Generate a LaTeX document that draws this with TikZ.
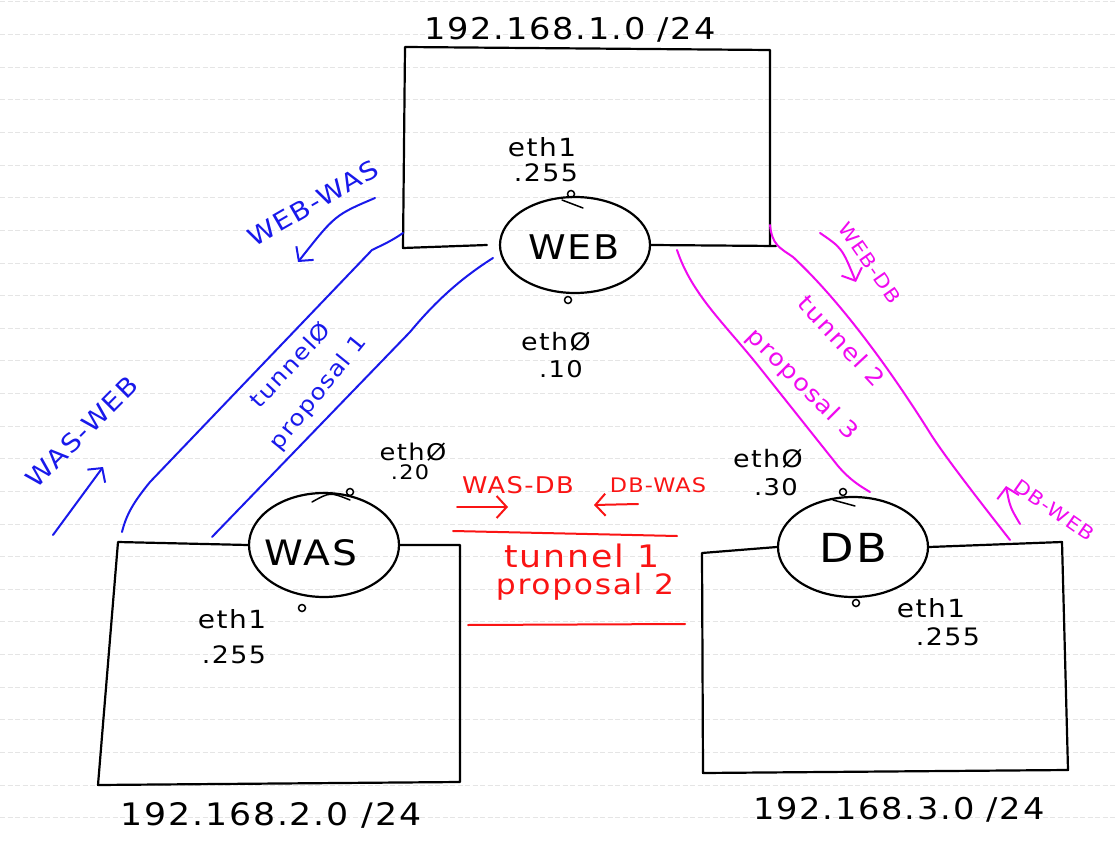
\documentclass[tikz,border=0pt]{standalone}
\usepackage{fontspec}
\setmainfont{DejaVu Sans}[FakeStretch=1.12,LetterSpace=6]
\usetikzlibrary{shapes.geometric,arrows.meta}
\definecolor{penblue}{RGB}{25,25,235}
\definecolor{penmag}{RGB}{240,10,240}
\definecolor{penred}{RGB}{250,20,20}
\newcommand\hfs[1]{\fontsize{#1}{#1}\selectfont}
\begin{document}
\begin{tikzpicture}[x=1pt,y=-1pt,
  ink/.style={line width=2.2pt,line cap=round,line join=round},
  bk/.style={ink,black},
  bl/.style={ink,penblue,line width=2pt},
  mg/.style={ink,penmag,line width=2pt},
  rd/.style={ink,penred,line width=2pt},
  host/.style={ellipse,draw,ink,inner sep=0pt},
  lbl/.style={inner sep=0pt,outer sep=0pt},
  barb/.style={-{Straight Barb[length=10pt,width=22pt,line width=2pt]}},
  port/.style={circle,draw,line width=1.5pt,inner sep=0pt,minimum size=7pt},
  noteline/.style={black!10,line width=1pt,dash pattern=on 5pt off 2.5pt}]
\fill[white] (0,0) rectangle (1116,842);
\path[use as bounding box] (0,0) rectangle (1116,842);
% notebook lines
\foreach \k in {0,...,25}{
  \draw[noteline] (0,{2+32.63*\k}) -- (1116,{2+32.63*\k});
}
% hosts
\node[host,minimum width=150pt,minimum height=96pt] (web) at (575,245) {};
\node[host,minimum width=150pt,minimum height=104pt] (was) at (324,545) {};
\node[host,minimum width=150pt,minimum height=100pt] (db) at (853,547) {};
\node[lbl,anchor=base,font=\hfs{34}] (webname) at (574,260) {WEB};
\node[lbl,anchor=base,font=\hfs{35}] (wasname) at (311,565) {WAS};
\node[lbl,anchor=base,font=\hfs{40}] (dbname) at (853,562) {DB};
% subnet boxes
\coordinate (aBL) at (403,248);
\coordinate (aTL) at (405,47);
\coordinate (aTR) at (770,50);
\coordinate (aBR) at (770,246);
\draw[bk] ([xshift=-12pt]web.west) -- (aBL) -- (aTL) -- (aTR) -- (aBR);
\draw[bk] (web.east) -- (776,246);
\coordinate (bTL) at (118,542);
\coordinate (bBL) at (98,785);
\coordinate (bBR) at (460,782);
\coordinate (bTR) at (460,545);
\draw[bk] (was.west) -- (bTL) -- (bBL) -- (bBR) -- (bTR) -- (was.east);
\coordinate (cTL) at (702,553);
\coordinate (cBL) at (703,773);
\coordinate (cBR) at (1068,770);
\coordinate (cTR) at (1062,542);
\draw[bk] (db.west) -- (cTL) -- (cBL) -- (cBR) -- (cTR) -- (db.east);
% subnet labels
\node[lbl,anchor=base,font=\hfs{30}] (net1) at (570,40) {192.168.1.0 /24};
\node[lbl,anchor=base,font=\hfs{31}] (net2) at (271,825) {192.168.2.0 /24};
\node[lbl,anchor=base,font=\hfs{30}] (net3) at (899,819) {192.168.3.0 /24};
% interface labels
\node[lbl,anchor=base,font=\hfs{25}] (webe1) at (542,157) {eth1};
\node[lbl,anchor=base,font=\hfs{24}] (webe1ip) at (546,182) {.255};
\node[lbl,anchor=base,font=\hfs{24}] (webe0) at (556,350) {ethØ};
\node[lbl,anchor=base,font=\hfs{23}] (webe0ip) at (561,377) {.10};
\node[lbl,anchor=base,font=\hfs{23}] (wase0) at (413,460) {ethØ};
\node[lbl,anchor=base,font=\hfs{20}] (wase0ip) at (410,479) {.20};
\node[lbl,anchor=base,font=\hfs{25}] (wase1) at (232,628) {eth1};
\node[lbl,anchor=base,font=\hfs{24}] (wase1ip) at (234,663) {.255};
\node[lbl,anchor=base,font=\hfs{24}] (dbe0) at (768,467) {ethØ};
\node[lbl,anchor=base,font=\hfs{23}] (dbe0ip) at (776,495) {.30};
\node[lbl,anchor=base,font=\hfs{25}] (dbe1) at (931,617) {eth1};
\node[lbl,anchor=base,font=\hfs{24}] (dbe1ip) at (948,645) {.255};
% ports
\node[port] (webp1) at (571,194) {};
\draw[line width=1.5pt,line cap=round] (562,200) -- (583,208);
\node[port] (webp0) at (568,300) {};
\node[port] (wasp0) at (350,492) {};
\draw[line width=1.5pt,line cap=round] (312,502) .. controls (330,492) .. (350,500);
\node[port] (wasp1) at (302,608) {};
\node[port] (dbp0) at (843,492) {};
\draw[line width=1.5pt,line cap=round] (833,500) -- (855,506);
\node[port] (dbp1) at (856,603) {};
% tunnel 0 (blue)
\coordinate (b0s) at (403,233);
\coordinate (b0e) at (122,532);
\coordinate (b1s) at (493,258);
\coordinate (b1e) at (212,537);
\draw[bl] (b0s) .. controls (390,242) and (380,246) .. (372,250) -- (150,482) .. controls (132,504) and (126,516) .. (b0e);
\draw[bl] (b1s) .. controls (455,282) and (430,308) .. (410,332) -- (b1e);
\node[lbl,penblue,rotate=47,font=\hfs{22}] (t0) at (290,365) {tunnelØ};
\node[lbl,penblue,rotate=51,font=\hfs{22}] (p1) at (319,393) {proposal 1};
\node[lbl,penblue,rotate=30,font=\hfs{25}] (webwas) at (313,203) {WEB-WAS};
\draw[bl,barb] (375,198) .. controls (335,215) .. (298,262);
\node[lbl,penblue,rotate=45,font=\hfs{25}] (wasweb) at (82,432) {WAS-WEB};
\draw[bl,barb] (53,535) -- (103,467);
% tunnel 2 (magenta)
\coordinate (m0s) at (770,225);
\coordinate (m0e) at (1010,540);
\coordinate (m1s) at (677,250);
\coordinate (m1e) at (870,492);
\draw[mg] (m0s) .. controls (772,245) and (780,248) .. (793,257) .. controls (850,310) and (905,393) .. (930,433) .. controls (945,457) and (985,508) .. (m0e);
\draw[mg] (m1s) .. controls (692,295) and (725,324) .. (760,368) -- (838,466) .. controls (850,480) and (860,486) .. (m1e);
\node[lbl,penmag,rotate=-47,font=\hfs{23}] (t2) at (842,341) {tunnel 2};
\node[lbl,penmag,rotate=-45,font=\hfs{23}] (p3) at (802,385) {proposal 3};
\node[lbl,penmag,rotate=-55,font=\hfs{19}] (webdb) at (870,263) {WEB-DB};
\draw[mg,barb] (820,233) .. controls (842,248) .. (856,282);
\node[lbl,penmag,rotate=-35,font=\hfs{19}] (dbweb) at (1054,510) {DB-WEB};
\draw[mg,barb] (1020,524) .. controls (1010,507) .. (1006,486);
% tunnel 1 (red)
\node[lbl,penred,anchor=base,font=\hfs{23}] (wasdb) at (518,493) {WAS-DB};
\node[lbl,penred,anchor=base,font=\hfs{20}] (dbwas) at (658,492) {DB-WAS};
\draw[rd,barb] (457,507) -- (508,507);
\draw[rd,barb] (638,504) -- (594,505);
\draw[rd] (453,531) -- (677,536);
\draw[rd] (468,625) -- (685,624);
\node[lbl,penred,anchor=base,font=\hfs{31}] (t1) at (582,567) {tunnel 1};
\node[lbl,penred,anchor=base,font=\hfs{28}] (p2) at (585,594) {proposal 2};
\end{tikzpicture}
\end{document}
